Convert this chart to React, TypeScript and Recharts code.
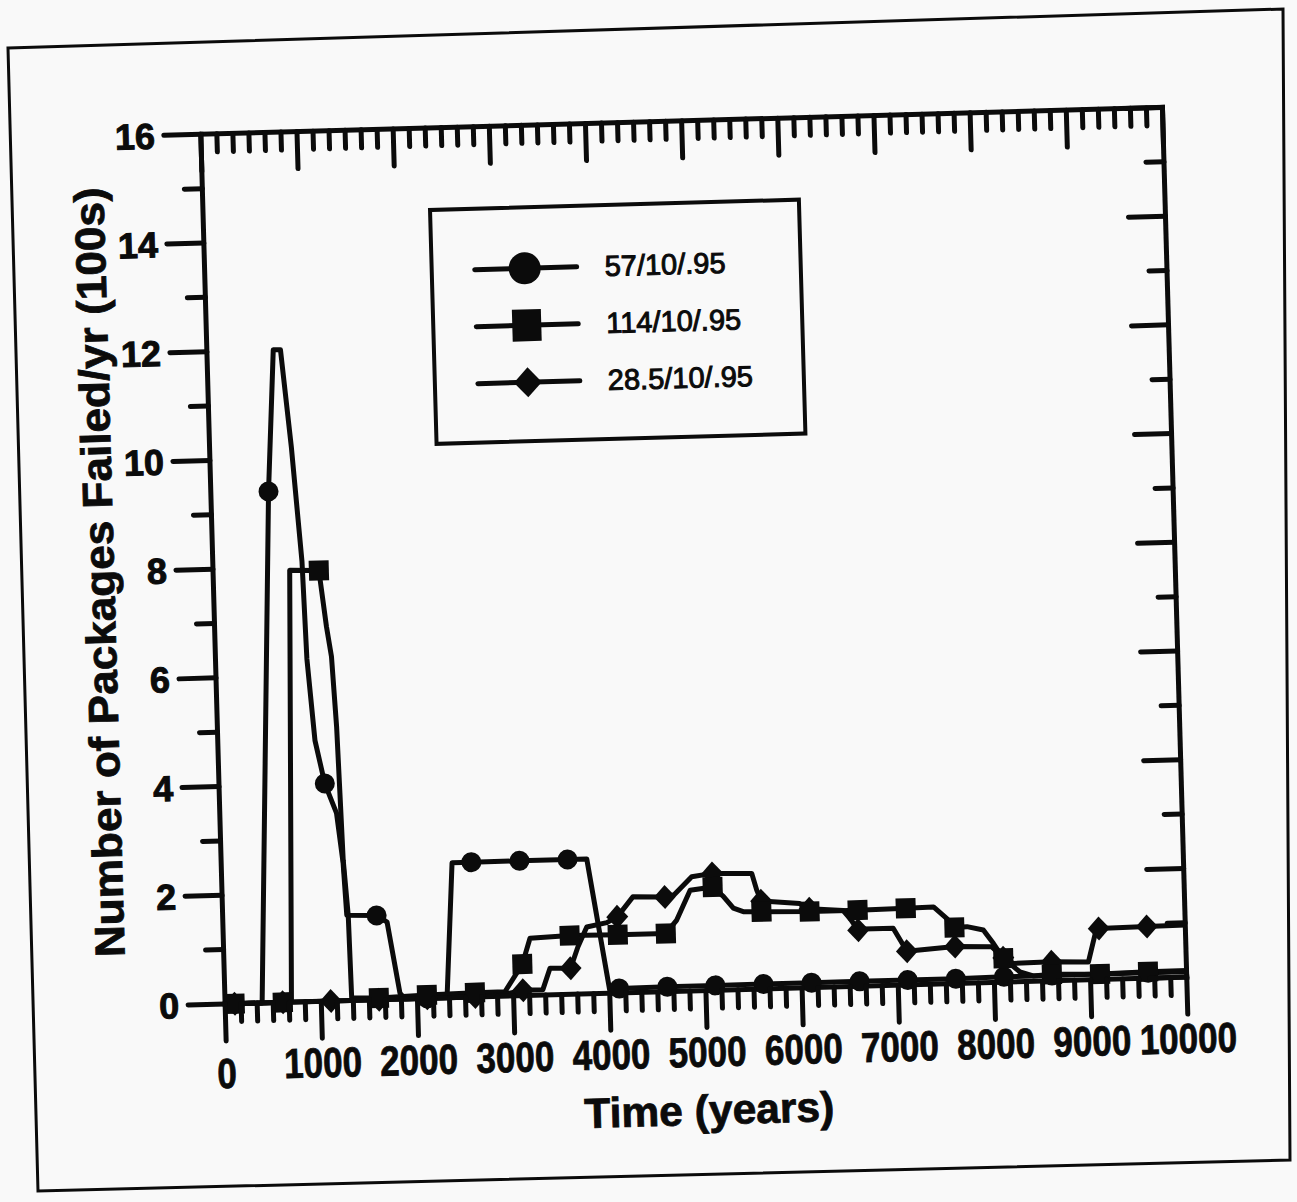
import React from 'react';
import { ComposedChart, Line, Scatter, XAxis, YAxis, Legend, Label } from 'recharts';

const INK = '#0b0b0b';
const PAPER = '#f9f9f9';

// marker times (every 500 yr, starting at 100)
const markYears = [100, 600, 1100, 1600, 2100, 2600, 3100, 3600, 4100, 4600, 5100, 5600, 6100, 6600, 7100, 7600, 8100, 8600, 9100, 9600];

const xMajor = [0, 1000, 2000, 3000, 4000, 5000, 6000, 7000, 8000, 9000, 10000];
const xMinorPerMajor = 6;
const yTicks = [0, 1, 2, 3, 4, 5, 6, 7, 8, 9, 10, 11, 12, 13, 14, 15, 16];

const legendLabels = ['57/10/.95', '114/10/.95', '28.5/10/.95'];

// [year, packages failed/yr (100s)]
const circlePath: [number, number][] = [
  [100, 0], [385, 0], [600, 9.4], [690, 12.0], [765, 12.0], [850, 10.2], [927, 8.1], [950, 6.3],
  [1010, 4.8], [1100, 4.0], [1213, 3.45], [1267, 2.53], [1290, 1.57], [1600, 1.55], [1707, 1.42],
  [1820, 0.11], [1870, 0], [2100, 0], [2308, 0], [2399, 2.48], [2600, 2.48], [3100, 2.48],
  [3600, 2.48], [3800, 2.48], [4000, 0.06], [4100, 0.08], [4600, 0.09], [5100, 0.09], [5600, 0.09],
  [6100, 0.09], [6600, 0.09], [7100, 0.09], [7600, 0.09], [8100, 0.1], [8600, 0.1], [9100, 0.1],
  [9600, 0.1], [10000, 0.1],
];

const squarePath: [number, number][] = [
  [100, 0], [600, 0], [690, 0], [797, 7.94], [1100, 7.92], [1163, 6.88], [1206, 6.33], [1239, 5.04],
  [1254, 3.82], [1269, 2.58], [1305, 1.57], [1317, 0.05], [1600, 0.03], [2100, 0.06], [2600, 0.08],
  [2911, 0.08], [3100, 0.58], [3187, 1.05], [3600, 1.08], [4100, 1.07], [4600, 1.07], [4717, 1.31],
  [4865, 1.85], [5100, 1.9], [5208, 1.72], [5309, 1.5], [5411, 1.43], [5600, 1.42], [6100, 1.4],
  [6600, 1.4], [7100, 1.41], [7389, 1.42], [7525, 1.2], [7600, 1.03], [7731, 1.04], [7900, 0.97],
  [8000, 0.72], [8100, 0.44], [8269, 0.18], [8405, 0.1], [8600, 0.12], [9100, 0.1], [9600, 0.12],
  [10000, 0.12],
];

const diamondPath: [number, number][] = [
  [100, 0], [600, 0], [1100, 0], [1600, 0], [2100, 0], [2600, 0], [2900, 0.03], [3100, 0.1],
  [3306, 0.1], [3386, 0.49], [3600, 0.48], [3683, 0.87], [3780, 1.23], [3990, 1.3], [4100, 1.4],
  [4268, 1.76], [4600, 1.74], [4700, 1.78], [4885, 2.1], [5100, 2.15], [5510, 2.13], [5557, 1.82],
  [5600, 1.62], [6000, 1.55], [6100, 1.45], [6450, 1.4], [6518, 1.25], [6600, 1.03], [6652, 1.05],
  [6964, 1.05], [7100, 0.62], [7600, 0.68], [7981, 0.66], [8100, 0.45], [8202, 0.34], [8600, 0.35],
  [8983, 0.33], [9076, 0.94], [9100, 0.94], [9600, 0.95], [10000, 0.96],
];

const toPoints = (path: [number, number][]) => path.map(([x, y]) => ({ x, y }));
const toMarks = (path: [number, number][]) => toPoints(path).filter((p) => markYears.includes(p.x));

const xTickPositions = xMajor.flatMap((m, i) =>
  i === xMajor.length - 1 ? [m] : Array.from({ length: xMinorPerMajor }, (_, k) => m + (k * 1000) / xMinorPerMajor)
);

const isMajorX = (v: number) => Math.abs(v / 1000 - Math.round(v / 1000)) < 1e-6;

const MAJOR = 37;
const MINOR = 18;
const TW = 5;
const SANS = "'Liberation Sans', Arial, Helvetica, sans-serif";
const NARROW = "'Liberation Sans Narrow', 'Liberation Sans', Arial, sans-serif";

const BottomTick = (props: any) => {
  const { x, y, payload } = props;
  const v = payload.value;
  const major = isMajorX(v);
  const label = String(Math.round(v));
  return (
    <g>
      <line x1={x} y1={y} x2={x} y2={y + (major ? MAJOR : MINOR)} stroke={INK} strokeWidth={TW} strokeLinecap="round" />
      {major && (
        <text
          x={x}
          y={y + (v === 0 ? 84 : 76)}
          textAnchor="middle"
          fontFamily={NARROW}
          fontWeight="bold"
          fontSize={42}
          fill={INK}
          stroke={INK}
          strokeWidth={0.8}
          textLength={label.length * 19.5}
          lengthAdjust="spacingAndGlyphs"
        >
          {label}
        </text>
      )}
    </g>
  );
};

const TopTick = (props: any) => {
  const { x, y, payload } = props;
  const major = isMajorX(payload.value);
  return <line x1={x} y1={y} x2={x} y2={y + (major ? MAJOR : MINOR)} stroke={INK} strokeWidth={TW} strokeLinecap="round" />;
};

const LeftTick = (props: any) => {
  const { x, y, payload } = props;
  const v = payload.value;
  const major = v % 2 === 0;
  return (
    <g>
      <line x1={x} y1={y} x2={x - (major ? MAJOR : MINOR)} y2={y} stroke={INK} strokeWidth={TW} strokeLinecap="round" />
      {major && (
        <text
          x={x - 46}
          y={y + 13}
          textAnchor="end"
          fontFamily={SANS}
          fontWeight="bold"
          fontSize={36}
          fill={INK}
          stroke={INK}
          strokeWidth={1}
        >
          {v}
        </text>
      )}
    </g>
  );
};

const RightTick = (props: any) => {
  const { x, y, payload } = props;
  const major = payload.value % 2 === 0;
  return <line x1={x} y1={y} x2={x - (major ? MAJOR : MINOR)} y2={y} stroke={INK} strokeWidth={TW} strokeLinecap="round" />;
};

const CircleMark = (p: any) => <circle cx={p.cx} cy={p.cy} r={10} fill={INK} />;
const SquareMark = (p: any) => <rect x={p.cx - 10} y={p.cy - 10} width={20} height={20} fill={INK} />;
const DiamondMark = (p: any) => (
  <polygon points={`${p.cx},${p.cy - 12} ${p.cx + 11},${p.cy} ${p.cx},${p.cy + 12} ${p.cx - 11},${p.cy}`} fill={INK} />
);

const LegendBox = () => (
  <div
    style={{
      width: 373,
      height: 238,
      boxSizing: 'border-box',
      border: `4px solid ${INK}`,
      background: PAPER,
      position: 'relative',
    }}
  >
    {legendLabels.map((name, i) => (
      <div
        key={name}
        style={{ position: 'absolute', left: 37, top: 59 + i * 57 - 19, height: 38, display: 'flex', alignItems: 'center' }}
      >
        <svg width={110} height={38}>
          <line x1={4} y1={19} x2={106} y2={19} stroke={INK} strokeWidth={5} strokeLinecap="round" />
          {i === 0 && <circle cx={54} cy={19} r={16} fill={INK} />}
          {i === 1 && <rect x={40} y={3} width={29} height={32} fill={INK} />}
          {i === 2 && <polygon points="54,4 68,19 54,34 40,19" fill={INK} />}
        </svg>
        <span
          style={{
            marginLeft: 24,
            fontFamily: SANS,
            fontSize: 29,
            color: INK,
            WebkitTextStroke: `1px ${INK}`,
            lineHeight: '38px',
          }}
        >
          {name}
        </span>
      </div>
    ))}
  </div>
);

const YTitle = (props: any) => {
  const vb = props.viewBox || { x: 213, y: 122, height: 870 };
  const cy = vb.y + vb.height / 2;
  return (
    <text
      transform={`translate(100,${cy}) rotate(-90)`}
      x={0}
      y={15}
      textAnchor="middle"
      fontFamily={SANS}
      fontWeight="bold"
      fontSize={42}
      fill={INK}
      stroke={INK}
      strokeWidth={0.8}
      textLength={770}
      lengthAdjust="spacingAndGlyphs"
    >
      Number of Packages Failed/yr (100s)
    </text>
  );
};

const XTitle = (props: any) => {
  const vb = props.viewBox || { x: 214, y: 992, width: 962 };
  return (
    <text
      x={vb.x + vb.width / 2}
      y={1126}
      textAnchor="middle"
      fontFamily={SANS}
      fontWeight="bold"
      fontSize={42}
      fill={INK}
      stroke={INK}
      strokeWidth={0.8}
      textLength={250}
      lengthAdjust="spacingAndGlyphs"
    >
      Time (years)
    </text>
  );
};

export default function App() {
  const axisLine = { stroke: INK, strokeWidth: 5, strokeLinecap: 'square' as const };
  const lineProps = {
    xAxisId: 'b',
    yAxisId: 'l',
    type: 'linear' as const,
    dataKey: 'y',
    stroke: INK,
    strokeWidth: 5,
    dot: false,
    activeDot: false,
    isAnimationActive: false,
    strokeLinejoin: 'round' as const,
  };
  return (
    <div style={{ position: 'absolute', left: 0, top: 0, width: 1297, height: 1202, background: PAPER, overflow: 'hidden' }}>
      {/* scanned page border */}
      <svg width={1297} height={1202} style={{ position: 'absolute', left: 0, top: 0 }}>
        <polygon points="8,48 1283,9 1290,1160 38,1191" fill="none" stroke={INK} strokeWidth={3} />
      </svg>
      <div
        style={{
          position: 'absolute',
          left: 0,
          top: 0,
          width: 1297,
          height: 1202,
          transform: 'rotate(-1.6deg)',
          transformOrigin: '648px 600px',
        }}
      >
        <ComposedChart width={1297} height={1202} margin={{ top: 121, right: 120, bottom: 209, left: 213 }}>
          <XAxis
            xAxisId="b"
            dataKey="x"
            type="number"
            domain={[0, 10000]}
            ticks={xTickPositions}
            interval={0}
            height={1}
            tickSize={0}
            tickMargin={0}
            tickLine={false}
            axisLine={axisLine}
            tick={<BottomTick />}
          >
            <Label content={<XTitle />} />
          </XAxis>
          <XAxis
            xAxisId="t"
            orientation="top"
            dataKey="x"
            type="number"
            domain={[0, 10000]}
            ticks={xTickPositions}
            interval={0}
            height={1}
            tickSize={0}
            tickMargin={0}
            tickLine={false}
            axisLine={axisLine}
            tick={<TopTick />}
          />
          <YAxis
            yAxisId="l"
            dataKey="y"
            type="number"
            domain={[0, 16]}
            ticks={yTicks}
            interval={0}
            width={1}
            tickSize={0}
            tickMargin={0}
            tickLine={false}
            axisLine={axisLine}
            tick={<LeftTick />}
          >
            <Label content={<YTitle />} />
          </YAxis>
          <YAxis
            yAxisId="r"
            orientation="right"
            dataKey="y"
            type="number"
            domain={[0, 16]}
            ticks={yTicks}
            interval={0}
            width={1}
            tickSize={0}
            tickMargin={0}
            tickLine={false}
            axisLine={axisLine}
            tick={<RightTick />}
          />
          {/* invisible copy bound to the top/right frame axes so they get ticks */}
          <Line
            xAxisId="t"
            yAxisId="r"
            data={toPoints(circlePath)}
            dataKey="y"
            stroke="none"
            dot={false}
            activeDot={false}
            legendType="none"
            isAnimationActive={false}
          />
          <Line {...lineProps} data={toPoints(circlePath)} name={legendLabels[0]} />
          <Line {...lineProps} data={toPoints(squarePath)} name={legendLabels[1]} />
          <Line {...lineProps} data={toPoints(diamondPath)} name={legendLabels[2]} />
          <Scatter xAxisId="b" yAxisId="l" dataKey="y" data={toMarks(diamondPath)} shape={DiamondMark} isAnimationActive={false} legendType="none" />
          <Scatter xAxisId="b" yAxisId="l" dataKey="y" data={toMarks(circlePath)} shape={CircleMark} isAnimationActive={false} legendType="none" />
          <Scatter xAxisId="b" yAxisId="l" dataKey="y" data={toMarks(squarePath)} shape={SquareMark} isAnimationActive={false} legendType="none" />
          <Legend
            layout="vertical"
            align="center"
            verticalAlign="middle"
            wrapperStyle={{ left: 439, top: 202, width: 373, height: 238 }}
            content={<LegendBox />}
          />
        </ComposedChart>
      </div>
    </div>
  );
}
